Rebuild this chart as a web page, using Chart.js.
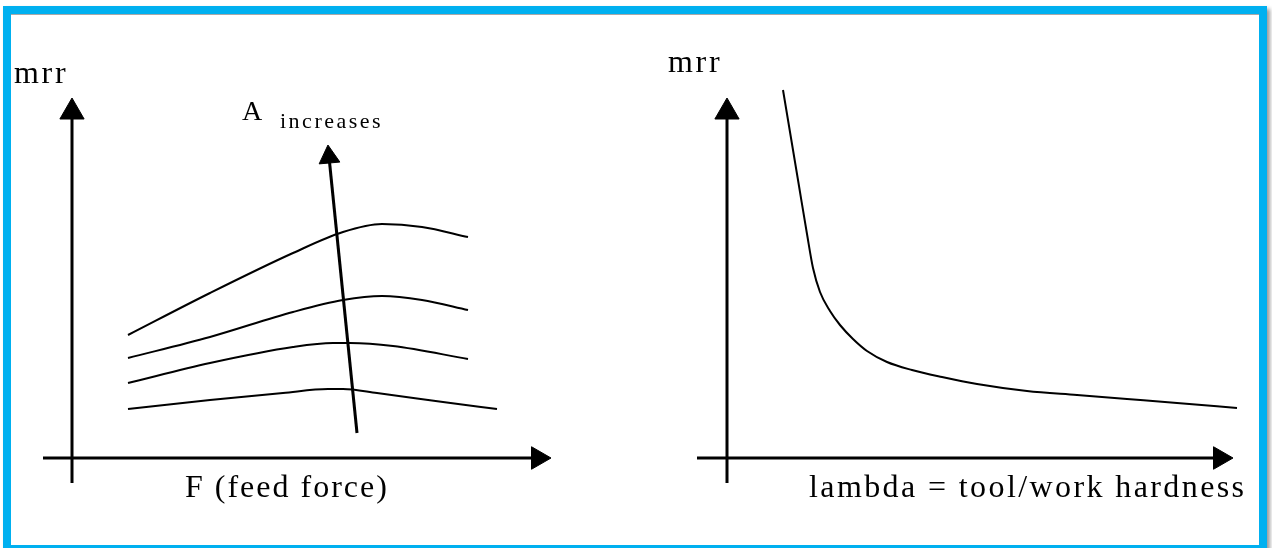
<!DOCTYPE html>
<html>
<head>
<meta charset="utf-8">
<script src="https://cdn.jsdelivr.net/npm/chart.js@4"></script>
<style>
    body { margin: 0; background: #fff; width: 1272px; height: 548px; overflow: hidden; position: relative; }
    #frame {
        position: absolute; left: 3px; top: 6px; width: 1248px; height: 531px;
        border: 8px solid #00b0f0; box-shadow: 3px 3px 4px #9a9a9a;
    }
    #frame::before { content: ""; position: absolute; left: 0; right: 0; top: 0; border-top: 1px solid #a8a8a8; }
    canvas { position: absolute; top: 15px; }
    #feedChart { left: 12px; }
    #hardChart { left: 652px; }
</style>
</head>
<body>
<div id="frame"></div>
<canvas id="feedChart" width="640" height="530"></canvas>
<canvas id="hardChart" width="606" height="530"></canvas>
<script>
// Left sketch: mrr vs F (feed force), one curve per A level
const feedX1 = [5.6, 13.8, 22.1, 27.1, 31.0, 35.0, 39.6];
const mrrA1  = [12.3, 16.5, 20.5, 22.6, 23.4, 23.1, 22.1];
const feedX2 = [5.6, 13.8, 22.1, 27.1, 31.0, 35.0, 39.6];
const mrrA2  = [10.0, 12.1, 14.6, 15.8, 16.2, 15.8, 14.8];
const feedX3 = [5.6, 13.8, 22.1, 26.1, 27.8, 32.1, 39.6];
const mrrA3  = [7.5, 9.5, 11.1, 11.5, 11.5, 11.2, 9.9];
const feedX4 = [5.6, 13.8, 21.1, 25.6, 27.1, 30.5, 37.1, 42.5];
const mrrA4  = [4.9, 5.8, 6.5, 6.9, 6.9, 6.5, 5.6, 4.9];

// "A increases" arrow
const arrowAX = [28.5, 25.7];
const arrowAY = [2.5, 30.1];

// Right sketch: mrr vs lambda
const lambdaX = [5.6, 6.4, 7.2, 8.0, 8.6, 9.3, 10.3, 11.3, 12.6, 14.0, 16.0,
                 18.5, 21.5, 25.0, 30.0, 35.0, 40.0, 45.0, 51.0];
const mrrL    = [36.8, 32.0, 27.2, 22.4, 19.0, 16.6, 14.7, 13.3, 11.9, 10.7, 9.6,
                 8.8, 8.1, 7.4, 6.7, 6.3, 5.9, 5.5, 5.0];

const pts = (xs, ys) => xs.map((x, i) => ({ x: x, y: ys[i] }));

const FONT = '"Liberation Serif", "DejaVu Serif", serif';

function curve(xs, ys) {
    return {
        data: pts(xs, ys),
        borderColor: '#000',
        borderWidth: 2,
        pointRadius: 0,
        cubicInterpolationMode: 'monotone',
        clip: false
    };
}

// axis line with a triangle head on its last point
function arrow(xs, ys, rot, size) {
    return {
        data: pts(xs, ys),
        borderColor: '#000',
        backgroundColor: '#000',
        borderWidth: 3,
        pointStyle: 'triangle',
        pointRadius: [0, size],
        pointRotation: rot,
        pointBackgroundColor: '#000',
        pointBorderColor: '#000',
        pointBorderWidth: 1,
        tension: 0,
        clip: false
    };
}

// text labels placed through the scales
function labelPlugin(labels) {
    return {
        id: 'labels',
        afterDatasetsDraw(chart) {
            const ctx = chart.ctx;
            const sx = chart.scales.x, sy = chart.scales.y;
            ctx.save();
            ctx.fillStyle = '#000';
            ctx.textBaseline = 'alphabetic';
            ctx.textAlign = 'left';
            labels.forEach(l => {
                ctx.font = l.size + 'px ' + FONT;
                ctx.letterSpacing = l.spacing + 'px';
                ctx.fillText(l.text, sx.getPixelForValue(l.x), sy.getPixelForValue(l.y));
            });
            ctx.restore();
        }
    };
}

function baseOptions(xmin, xmax) {
    return {
        responsive: false,
        animation: false,
        layout: { padding: 0, autoPadding: false },
        plugins: { legend: { display: false }, tooltip: { enabled: false } },
        scales: {
            x: { type: 'linear', min: xmin, max: xmax, display: false },
            y: { type: 'linear', min: -8.7, max: 44.3, display: false }
        }
    };
}

new Chart(document.getElementById('feedChart'), {
    type: 'line',
    data: {
        datasets: [
            arrow([0, 0], [-2.5, 34.6], 0, 14),
            arrow([-2.9, 46.6], [0, 0], 90, 13),
            curve(feedX1, mrrA1),
            curve(feedX2, mrrA2),
            curve(feedX3, mrrA3),
            curve(feedX4, mrrA4),
            arrow(arrowAX, arrowAY, -5, 12)
        ]
    },
    options: baseOptions(-6, 58),
    plugins: [labelPlugin([
        { text: 'mrr', x: -5.8, y: 37.5, size: 32, spacing: 2.7 },
        { text: 'A', x: 17.0, y: 33.8, size: 28, spacing: 0 },
        { text: 'increases', x: 20.8, y: 33.0, size: 22, spacing: 2.5 },
        { text: 'F (feed force)', x: 11.3, y: -3.9, size: 32, spacing: 2 }
    ])]
});

new Chart(document.getElementById('hardChart'), {
    type: 'line',
    data: {
        datasets: [
            arrow([0, 0], [-2.5, 34.6], 0, 14),
            arrow([-3.0, 49.3], [0, 0], 90, 13),
            curve(lambdaX, mrrL)
        ]
    },
    options: baseOptions(-7.5, 53.1),
    plugins: [labelPlugin([
        { text: 'mrr', x: -5.9, y: 38.6, size: 32, spacing: 2.7 },
        { text: 'lambda = tool/work hardness', x: 8.2, y: -3.9, size: 32, spacing: 2.4 }
    ])]
});
</script>
</body>
</html>
